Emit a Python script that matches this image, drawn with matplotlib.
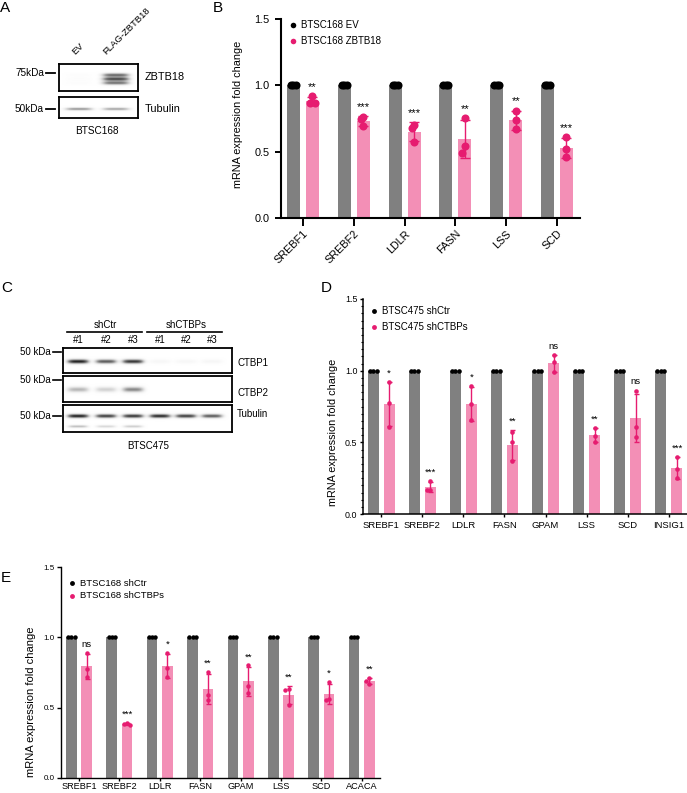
import numpy as np
import matplotlib
matplotlib.use("Agg")
import matplotlib.pyplot as plt
from matplotlib.lines import Line2D
from matplotlib.ticker import MultipleLocator

plt.rcParams['font.family'] = ['Liberation Sans', 'DejaVu Sans']

W, H = 687, 793
fig = plt.figure(figsize=(W / 100, H / 100), dpi=100)

GRAY = '#808080'
PINKBAR = '#F38FB6'
PINKDOT = '#E61C70'

# ---------------- data ----------------
# Panel A blot (band intensities per lane)
a_lanes = ['EV', 'FLAG-ZBTB18']
a_zbtb18 = [0.03, 0.82]
a_tubulin = [0.55, 0.50]

# Panel B
b_genes = ['SREBF1', 'SREBF2', 'LDLR', 'FASN', 'LSS', 'SCD']
b_ev = [[1.0, 1.0, 1.0], [1.0, 1.0, 1.0], [1.0, 1.0, 1.0],
        [1.0, 1.0, 1.0], [1.0, 1.0, 1.0], [1.0, 1.0, 1.0]]
b_zbtb18 = [[0.92, 0.865, 0.865], [0.76, 0.75, 0.69], [0.70, 0.68, 0.57],
            [0.756, 0.54, 0.49], [0.81, 0.736, 0.668], [0.61, 0.52, 0.46]]
b_sig = ['**', '***', '***', '**', '**', '***']

# Panel C blot
c_groups = ['shCtr', 'shCTBPs']
c_lanes = ['#1', '#2', '#3', '#1', '#2', '#3']
c_ctbp1 = [0.95, 0.75, 0.88, 0.07, 0.07, 0.08]
c_ctbp2 = [0.42, 0.30, 0.58, 0.0, 0.0, 0.0]
c_tub = [0.95, 0.85, 0.88, 0.92, 0.85, 0.75]
c_tub_low = [0.40, 0.28, 0.33, 0.0, 0.0, 0.0]

# Panel D
d_genes = ['SREBF1', 'SREBF2', 'LDLR', 'FASN', 'GPAM', 'LSS', 'SCD', 'INSIG1']
d_ctr = [[1.0, 1.0, 1.0], [1.0, 1.0, 1.0], [1.0, 1.0, 1.0], [1.0, 1.0, 1.0],
         [1.0, 1.0, 1.0], [1.0, 1.0, 1.0], [1.0, 1.0, 1.0], [1.0, 1.0, 1.0]]
d_sh = [[0.92, 0.775, 0.61], [0.23, 0.17, 0.17], [0.89, 0.767, 0.653],
        [0.574, 0.50, 0.37], [1.107, 1.058, 0.99], [0.598, 0.547, 0.50],
        [0.86, 0.61, 0.54], [0.397, 0.315, 0.25]]
d_sig = ['*', '***', '*', '**', 'ns', '**', 'ns', '***']

# Panel E
e_genes = ['SREBF1', 'SREBF2', 'LDLR', 'FASN', 'GPAM', 'LSS', 'SCD', 'ACACA']
e_ctr = [[1.0, 1.0, 1.0], [1.0, 1.0, 1.0], [1.0, 1.0, 1.0], [1.0, 1.0, 1.0],
         [1.0, 1.0, 1.0], [1.0, 1.0, 1.0], [1.0, 1.0, 1.0], [1.0, 1.0, 1.0]]
e_sh = [[0.89, 0.776, 0.718], [0.374, 0.386, 0.39], [0.89, 0.78, 0.718],
        [0.753, 0.593, 0.553], [0.80, 0.656, 0.605], [0.633, 0.624, 0.518],
        [0.682, 0.565, 0.553], [0.711, 0.687, 0.668]]
e_sig = ['ns', '***', '*', '**', '**', '**', '*', '**']


# ---------------- helpers ----------------
def px_axes(l, t, r, b):
    return fig.add_axes([l / W, 1 - b / H, (r - l) / W, (b - t) / H])


def ftext(x, y, s, **kw):
    return fig.text(x / W, 1 - y / H, s, **kw)


def fline(xs, ys, **kw):
    fig.add_artist(Line2D([x / W for x in xs], [1 - y / H for y in ys], **kw))


def swarm(vals, dy, dx):
    order = np.argsort(-np.asarray(vals), kind='stable')
    placed = []
    offs = [0.0] * len(vals)
    for i in order:
        v = vals[i]
        for o in [0.0, -dx, dx, -2 * dx, 2 * dx]:
            if all(not (abs(po - o) < 1e-9 and abs(pv - v) < dy) for po, pv in placed):
                offs[i] = o
                placed.append((o, v))
                break
    return offs


def blot(l, t, r, b, bands, lw=1.3):
    ax = px_axes(l, t, r, b)
    xs = np.linspace(l, r, int((r - l) * 4))
    ys = np.linspace(t, b, int((b - t) * 4))
    X, Y = np.meshgrid(xs, ys)
    img = np.zeros_like(X)
    for xc, yc, inten, hw, sy in bands:
        img += inten * np.exp(-(np.abs(X - xc) / hw) ** 4) * np.exp(-((Y - yc) / sy) ** 2)
    img = np.clip(img, 0, 1)
    ax.imshow(img, extent=(l, r, b, t), cmap='Greys', vmin=0, vmax=1.05,
              interpolation='bilinear', aspect='auto')
    ax.set_xlim(l, r)
    ax.set_ylim(b, t)
    ax.set_xticks([])
    ax.set_yticks([])
    for s in ax.spines.values():
        s.set_linewidth(lw)
        s.set_color('black')
    return ax


def bar_panel(ax, genes, ctrl, trt, sig, xlim, off, bw, ms, dx, dy,
              capsize, elw, sig_fs, sig_gap, spine_lw):
    x = np.arange(len(genes))
    cm = [np.mean(v) for v in ctrl]
    tm = [np.mean(v) for v in trt]
    tsd = [np.std(v, ddof=1) for v in trt]
    ax.bar(x - off, cm, width=bw, color=GRAY, zorder=1)
    ax.bar(x + off, tm, width=bw, color=PINKBAR, zorder=1)
    ax.errorbar(x + off, tm, yerr=tsd, fmt='none', ecolor=PINKDOT,
                elinewidth=elw, capsize=capsize, capthick=elw, zorder=2)
    for i in range(len(genes)):
        o = swarm(ctrl[i], dy, dx)
        ax.plot(x[i] - off + np.array(o), ctrl[i], 'o', color='black',
                markersize=ms, markeredgewidth=0, zorder=3, clip_on=False)
        o = swarm(trt[i], dy, dx)
        ax.plot(x[i] + off + np.array(o), trt[i], 'o', color=PINKDOT,
                markersize=ms, markeredgewidth=0, zorder=3, clip_on=False)
        top = max(max(trt[i]), tm[i] + tsd[i])
        ax.text(x[i] + off, top + sig_gap, sig[i], ha='center', va='bottom',
                fontsize=sig_fs)
    ax.set_xlim(*xlim)
    ax.set_ylim(0, 1.5)
    ax.set_yticks([0.0, 0.5, 1.0, 1.5])
    ax.set_yticklabels(['0.0', '0.5', '1.0', '1.5'])
    ax.set_xticks(x)
    for s in ['top', 'right']:
        ax.spines[s].set_visible(False)
    for s in ['left', 'bottom']:
        ax.spines[s].set_linewidth(spine_lw)
    return x


def legend(x, y1, y2, labels, fs, ms):
    for yy, lab, c in [(y1, labels[0], 'black'), (y2, labels[1], PINKDOT)]:
        fig.add_artist(Line2D([x / W], [1 - yy / H], marker='o', color=c,
                              markersize=ms, markeredgewidth=0, linestyle='none'))
        ftext(x + 8, yy, lab, fontsize=fs, va='center', ha='left')


# ---------------- Panel labels ----------------
for lab, x, y in [('A', 0, 8), ('B', 213, 8), ('C', 1, 288), ('D', 321, 288), ('E', 1, 578)]:
    ftext(x, y, lab, fontsize=11, va='center', ha='left')

# ---------------- Panel A ----------------
a_x = [79, 116]
zb_bands = []
for xc, inten in zip(a_x, a_zbtb18):
    for yc, f in [(75.0, 0.85), (79.0, 1.0), (83.0, 0.8)]:
        zb_bands.append((xc, yc, inten * f, 14, 1.9))
blot(59, 64, 138, 91, zb_bands)
blot(59, 97, 138, 118, [(xc, 109, inten, 14, 1.4) for xc, inten in zip(a_x, a_tubulin)])
ftext(44, 73, '75kDa', fontsize=7.2, ha='right', va='center')
fline([46, 55], [73, 73], color='black', lw=1.3)
ftext(44, 109, '50kDa', fontsize=7.2, ha='right', va='center')
fline([46, 55], [109, 109], color='black', lw=1.3)
ftext(145, 77, 'ZBTB18', fontsize=7.8, ha='left', va='center')
ftext(145, 109, 'Tubulin', fontsize=7.8, ha='left', va='center')
ftext(77, 56, a_lanes[0], fontsize=6.8, rotation=45, ha='left', va='bottom',
      rotation_mode='anchor')
ftext(108, 56, a_lanes[1], fontsize=6.8, rotation=45, ha='left', va='bottom',
      rotation_mode='anchor')
ftext(97, 131, 'BTSC168', fontsize=7.2, ha='center', va='center')

# ---------------- Panel B ----------------
axB = px_axes(281, 19, 580, 218)
bar_panel(axB, b_genes, b_ev, b_zbtb18, b_sig, (-0.433, 5.453), 0.187, 0.256,
          5.8, 0.05, 0.06, 3.6, 1.0, 8, 0.03, 1.5)
axB.set_xticklabels(b_genes, rotation=45, ha='right', va='top',
                    rotation_mode='anchor', fontsize=7.8)
axB.tick_params(axis='x', length=5.5, width=1.4, pad=2)
axB.tick_params(axis='y', length=4.3, width=1.4, pad=4, labelsize=7.8)
axB.set_ylabel('mRNA expression fold change', fontsize=7.8)
axB.yaxis.set_label_coords(-0.127, 0.52)
legend(293, 25, 41, ['BTSC168 EV', 'BTSC168 ZBTB18'], 7, 4)

# ---------------- Panel C ----------------
c_x = [78, 106, 133, 160, 186, 212]
blot(63, 348, 232, 373, [(xc, 361.5, v, 11, 2.2) for xc, v in zip(c_x, c_ctbp1)])
blot(63, 376, 232, 402, [(xc, 390, v, 11, 2.6) for xc, v in zip(c_x, c_ctbp2)])
blot(63, 405, 232, 432, [(xc, 416, v, 11, 2.0) for xc, v in zip(c_x, c_tub)] +
     [(xc, 426.5, v, 10, 1.3) for xc, v in zip(c_x, c_tub_low)])
for yy in [352, 380, 416]:
    ftext(51, yy, '50 kDa', fontsize=7, ha='right', va='center')
    fline([53, 61], [yy, yy], color='black', lw=1.2)
fline([67, 142], [332, 332], color='black', lw=1.2)
fline([147, 222], [332, 332], color='black', lw=1.2)
ftext(105, 325, c_groups[0], fontsize=7, ha='center', va='center')
ftext(186, 325, c_groups[1], fontsize=7, ha='center', va='center')
for xc, lab in zip(c_x, c_lanes):
    ftext(xc, 340, lab, fontsize=7, ha='center', va='center')
ftext(237, 363, 'CTBP1', fontsize=7, ha='left', va='center')
ftext(237, 393, 'CTBP2', fontsize=7, ha='left', va='center')
ftext(237, 414, 'Tubulin', fontsize=7, ha='left', va='center')
ftext(148, 446, 'BTSC475', fontsize=7, ha='center', va='center')

# ---------------- Panel D ----------------
axD = px_axes(363, 299, 687, 514)
bar_panel(axD, d_genes, d_ctr, d_sh, d_sig, (-0.44, 7.44), 0.195, 0.27,
          3.3, 0.085, 0.03, 1.8, 1.0, 6.8, 0.03, 1.1)
axD.set_xticklabels(d_genes, fontsize=6.8)
axD.tick_params(axis='x', length=2.5, width=1.0, pad=2.5)
axD.tick_params(axis='y', which='major', length=2.5, width=1.0, pad=1.5, labelsize=6.4)
axD.yaxis.set_minor_locator(MultipleLocator(0.05))
axD.tick_params(axis='y', which='minor', length=1.3, width=0.8)
axD.set_ylabel('mRNA expression fold change', fontsize=7.8)
axD.yaxis.set_label_coords(-0.077, 0.38)
legend(374, 311, 327, ['BTSC475 shCtr', 'BTSC475 shCTBPs'], 7, 3.5)

# ---------------- Panel E ----------------
axE = px_axes(61, 567, 380, 778)
bar_panel(axE, e_genes, e_ctr, e_sh, e_sig, (-0.446, 7.45), 0.19, 0.26,
          3.2, 0.08, 0.03, 1.8, 1.0, 6.8, 0.03, 1.0)
axE.set_xticklabels(e_genes, fontsize=6.6)
axE.tick_params(axis='x', length=2, width=1.0, pad=1)
axE.tick_params(axis='y', length=3, width=1.0, pad=1.5, labelsize=5.8)
axE.set_ylabel('mRNA expression fold change', fontsize=8)
axE.yaxis.set_label_coords(-0.078, 0.36)
legend(72, 583, 596, ['BTSC168 shCtr', 'BTSC168 shCTBPs'], 6.8, 3.5)

fig.savefig('out.png', dpi=100)
